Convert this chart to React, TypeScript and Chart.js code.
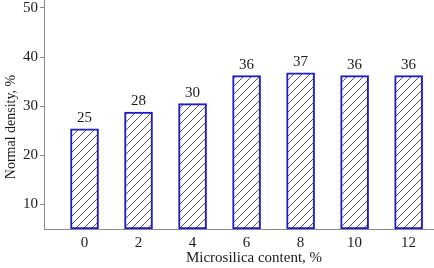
import { useEffect, useRef } from "react";
import { Chart, registerables } from "chart.js";

Chart.register(...registerables);

const categories = [0, 2, 4, 6, 8, 10, 12];
const densityValues = [25.4, 28.8, 30.5, 36.2, 36.8, 36.2, 36.2];
const valueLabels = ["25", "28", "30", "36", "37", "36", "36"];
const yTicks = [10, 20, 30, 40, 50];
const xTitle = "Microsilica content, %";
const yTitle = "Normal density, %";

const FONT = "'Liberation Serif', 'Times New Roman', serif";
const TEXT = "#1a1a1a";
const AXIS = "#8a8a8a";

function makeHatch(): CanvasPattern | string {
  const size = 8;
  const c = document.createElement("canvas");
  c.width = size;
  c.height = size;
  const g = c.getContext("2d");
  if (!g) return "#fff";
  g.fillStyle = "#ffffff";
  g.fillRect(0, 0, size, size);
  g.strokeStyle = "#555555";
  g.lineWidth = 1;
  g.beginPath();
  g.moveTo(0, size);
  g.lineTo(size, 0);
  g.moveTo(-2, 2);
  g.lineTo(2, -2);
  g.moveTo(size - 2, size + 2);
  g.lineTo(size + 2, size - 2);
  g.stroke();
  return g.createPattern(c, "repeat") || "#fff";
}

export default function App() {
  const ref = useRef<HTMLCanvasElement | null>(null);

  useEffect(() => {
    if (!ref.current) return;
    const labelPlugin = {
      id: "valueLabels",
      afterDatasetsDraw(chart: any) {
        const ctx = chart.ctx;
        const meta = chart.getDatasetMeta(0);
        ctx.save();
        ctx.font = `15px ${FONT}`;
        ctx.fillStyle = TEXT;
        ctx.textAlign = "center";
        ctx.textBaseline = "bottom";
        meta.data.forEach((el: any, i: number) => {
          ctx.fillText(valueLabels[i], el.x, el.y - 3);
        });
        ctx.restore();
      },
    };
    const titlePlugin = {
      id: "axisTitles",
      afterDraw(chart: any) {
        const ctx = chart.ctx;
        ctx.save();
        ctx.fillStyle = TEXT;
        ctx.textAlign = "center";
        ctx.textBaseline = "middle";
        ctx.font = `15px ${FONT}`;
        ctx.fillText(xTitle, 254, 258);
        ctx.font = `14px ${FONT}`;
        ctx.translate(11, 127);
        ctx.rotate(-Math.PI / 2);
        ctx.fillText(yTitle, 0, 0);
        ctx.restore();
      },
    };

    const chart = new Chart(ref.current, {
      type: "bar",
      data: {
        datasets: [
          {
            data: categories.map((c, i) => ({ x: c, y: densityValues[i] })),
            backgroundColor: makeHatch(),
            borderColor: "#1c1ccc",
            borderWidth: 2,
            borderSkipped: false,
            barThickness: 28,
            base: 5,
          } as any,
        ],
      },
      options: {
        responsive: false,
        animation: false,
        layout: { padding: 0 },
        plugins: {
          legend: { display: false },
          tooltip: { enabled: false },
        },
        scales: {
          x: {
            type: "linear",
            offset: false,
            min: -1.5,
            max: 12.94,
            afterBuildTicks: (s: any) => {
              s.ticks = categories.map((v) => ({ value: v }));
            },
            afterFit: (s: any) => {
              s.height = 39;
              s.paddingLeft = 0;
              s.paddingRight = 0;
            },
            grid: { display: false, drawTicks: false, offset: false },
            border: { display: true, color: AXIS, width: 1 },
            ticks: {
              padding: 5,
              color: TEXT,
              font: { family: FONT, size: 15 },
              maxRotation: 0,
              autoSkip: false,
            },
          },
          y: {
            type: "linear",
            min: 5,
            max: 51.6,
            afterBuildTicks: (s: any) => {
              s.ticks = yTicks.map((v) => ({ value: v }));
            },
            afterFit: (s: any) => {
              s.width = 44;
              s.paddingTop = 0;
              s.paddingBottom = 0;
            },
            grid: {
              drawOnChartArea: false,
              drawTicks: true,
              tickLength: 4,
              color: AXIS,
            },
            border: { display: true, color: AXIS, width: 1 },
            ticks: {
              padding: 2,
              color: TEXT,
              font: { family: FONT, size: 15 },
            },
          },
        },
      } as any,
      plugins: [labelPlugin, titlePlugin],
    });
    return () => chart.destroy();
  }, []);

  return (
    <div style={{ position: "fixed", left: 0, top: 0, width: 434, height: 268, background: "#fff" }}>
      <canvas ref={ref} width={434} height={268} />
    </div>
  );
}
